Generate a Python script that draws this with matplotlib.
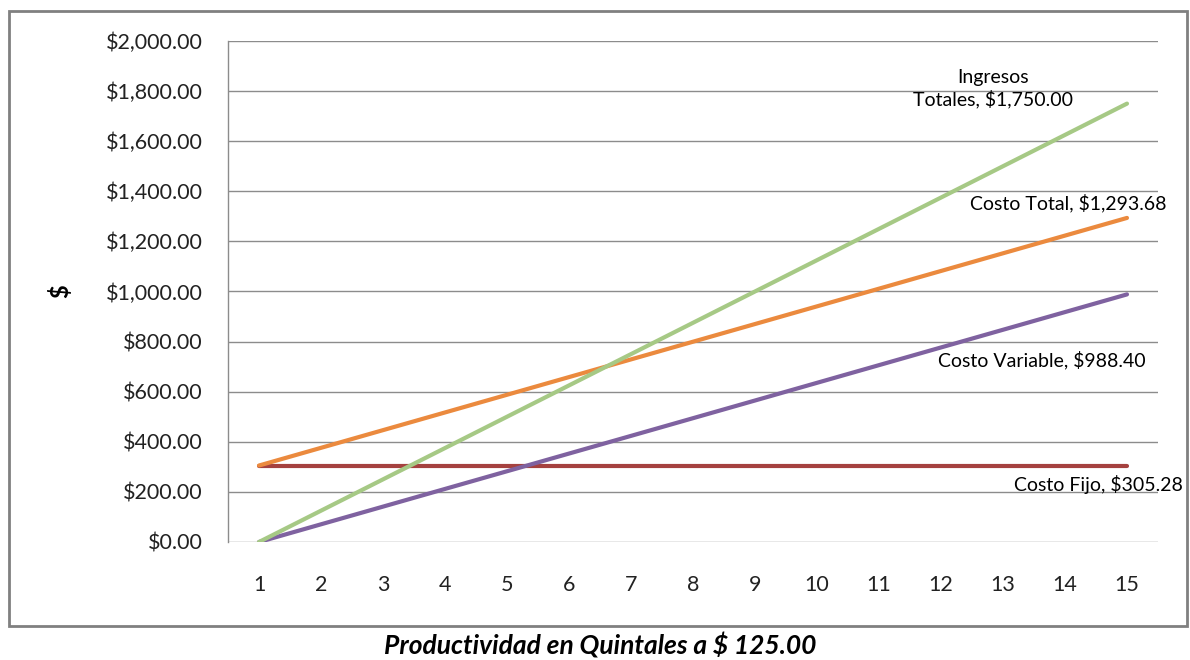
import matplotlib
matplotlib.use('Agg')
import matplotlib.pyplot as plt
from matplotlib.patches import Rectangle
from matplotlib.ticker import FuncFormatter

# values
quintales = list(range(1, 16))
ingresos_totales = [0, 125, 250, 375, 500, 625, 750, 875, 1000, 1125, 1250, 1375, 1500, 1625, 1750]
costo_variable = [0, 70.60, 141.20, 211.80, 282.40, 353.00, 423.60, 494.20, 564.80, 635.40,
                  706.00, 776.60, 847.20, 917.80, 988.40]
costo_total = [305.28, 375.88, 446.48, 517.08, 587.68, 658.28, 728.88, 799.48, 870.08, 940.68,
               1011.28, 1081.88, 1152.48, 1223.08, 1293.68]
costo_fijo = [305.28] * 15
y_ticks = [0, 200, 400, 600, 800, 1000, 1200, 1400, 1600, 1800, 2000]

plt.rcParams['font.family'] = ['Lato', 'DejaVu Sans']

fig = plt.figure(figsize=(11.9, 6.6), dpi=100)
ax = fig.add_axes([0.1916, 0.1788, 0.7815, 0.7591])

# name, values, colour, label offset from last point (pixels)
series = [
    ('Costo Fijo', costo_fijo, '#A5413F', (-29, -19)),
    ('Costo Variable', costo_variable, '#7F62A0', (-85, -66)),
    ('Costo Total', costo_total, '#EB8A3E', (-59, 15)),
    ('Ingresos\nTotales', ingresos_totales, '#A6C985', (-134, 15)),
]
for name, vals, color, off in series:
    ax.plot(quintales, vals, color=color, lw=3, solid_capstyle='round', zorder=3)
    label = f"{name}, ${vals[-1]:,.2f}"
    ax.annotate(label, xy=(quintales[-1], vals[-1]), xytext=off,
                textcoords='offset pixels', ha='center', va='center',
                multialignment='center', fontsize=14, color='black')

ax.set_xlim(0.5, 15.5)
ax.set_ylim(0, 2000)
ax.set_xticks(quintales)
ax.set_yticks(y_ticks)
ax.yaxis.set_major_formatter(FuncFormatter(lambda v, p: f"${v:,.2f}"))
ax.tick_params(axis='both', length=0, labelsize=15.5, labelcolor='#222222')
ax.tick_params(axis='y', pad=18)
ax.tick_params(axis='x', pad=24)
ax.grid(axis='y', color='#8c8c8c', lw=1)
ax.set_axisbelow(True)
for s in ['top', 'right', 'bottom']:
    ax.spines[s].set_visible(False)
ax.spines['left'].set_color('#8c8c8c')
ax.spines['left'].set_linewidth(1)

ax.set_ylabel('$', fontsize=17, fontweight='bold', va='center')
ax.yaxis.set_label_coords(-0.1806, 0.5)

fig.patches.append(Rectangle((9 / 1190, 1 - 626 / 660), 1178 / 1190, 615 / 660,
                             transform=fig.transFigure, fill=False,
                             edgecolor='#808080', lw=2))
fig.text(600 / 1190, 1 - 646 / 660, 'Productividad en Quintales a $ 125.00',
         ha='center', va='center', fontsize=19, fontweight='bold', fontstyle='italic')

fig.savefig('out.png', dpi=100)
